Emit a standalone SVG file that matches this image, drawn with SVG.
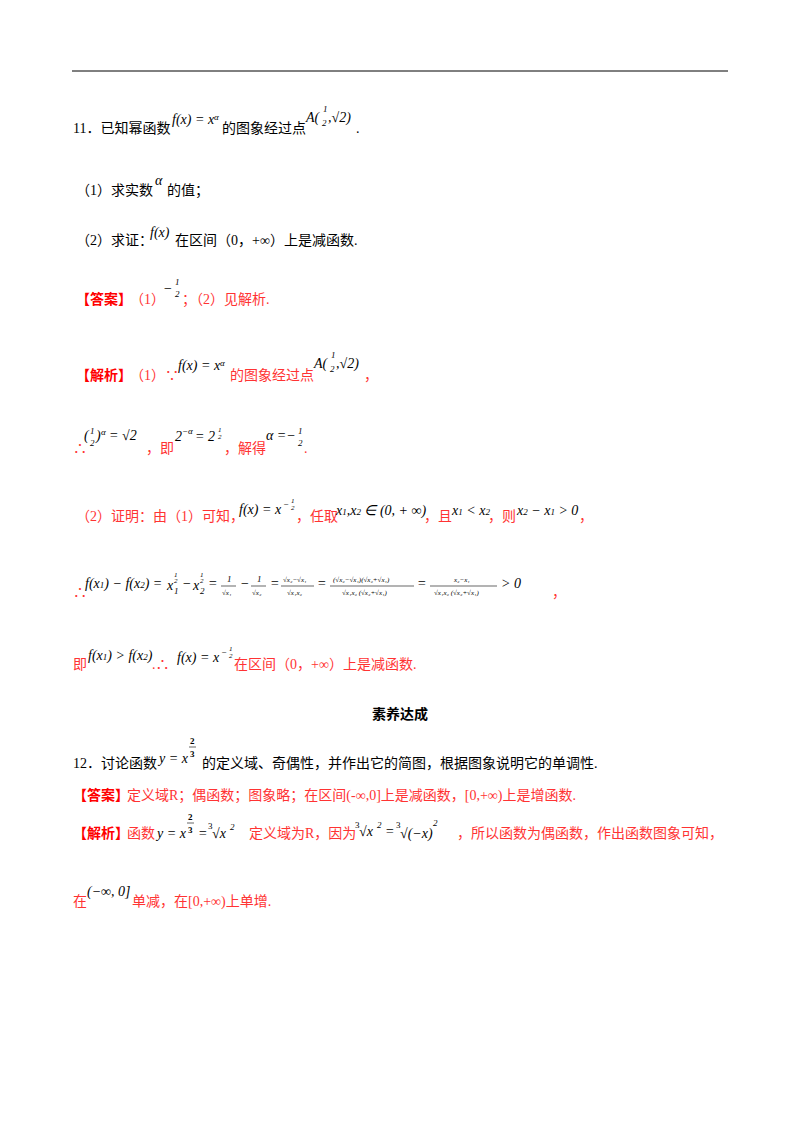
<svg xmlns="http://www.w3.org/2000/svg" width="800" height="1132" viewBox="0 0 800 1132">
<style>
.c{font-family:"Liberation Serif","Noto Sans CJK SC",serif;font-size:14px;fill:#000}
.r{font-family:"Liberation Serif","Noto Sans CJK SC",serif;font-size:14px;fill:#ff3333}
.rb{font-family:"Liberation Serif","Noto Sans CJK SC",serif;font-size:14px;fill:#ff0000;font-weight:bold}
.m{font-family:"Liberation Serif",serif;font-style:italic;font-size:14px;fill:#000}
.s{font-family:"Liberation Serif",serif;font-style:italic;font-size:9px;fill:#000}
.t{font-family:"Liberation Serif",serif;font-style:italic;font-size:7px;fill:#000}
.rm{font-family:"Liberation Serif",serif;font-size:14px;fill:#000}
.rs{font-family:"Liberation Serif",serif;font-size:9px;fill:#000}
.b{font-family:"Liberation Serif",serif;font-size:9px;font-weight:bold;fill:#000}
.h{font-family:"Liberation Sans","Noto Sans CJK SC",sans-serif;font-size:14px;font-weight:bold;fill:#000}
</style>
<rect width="800" height="1132" fill="#fff"/>
<line x1="72" y1="71" x2="728" y2="71" stroke="#000" stroke-width="1"/>

<g id="q11">
<text class="c" x="73" y="133">11．已知幂函数</text>
<text class="m" x="172" y="124">f(x) = x<tspan class="s" dy="-4">α</tspan></text>
<text class="c" x="222" y="133">的图象经过点</text>
<text class="m" x="306" y="122">A(</text>
<text class="s" x="323" y="112">1</text><text class="s" x="322" y="126">2</text>
<text class="m" x="328" y="122">,√2)</text>
<text class="c" x="356" y="133">.</text>
<text class="c" x="76" y="195">（1）求实数</text>
<text class="m" x="155" y="185">α</text>
<text class="c" x="167" y="195">的值；</text>
<text class="c" x="76" y="245">（2）求证：</text>
<text class="m" x="150" y="237">f(x)</text>
<text class="c" x="175" y="245">在区间（0，+∞）上是减函数.</text>
</g>

<g id="ans11">
<text class="rb" x="76" y="304">【答案】</text>
<text class="r" x="130" y="304">（1）</text>
<text class="rm" x="164" y="293">−</text>
<text class="s" x="175" y="285">1</text><text class="s" x="175" y="297">2</text>
<text class="r" x="182" y="304">；（2）见解析.</text>
</g>

<g id="sol11">
<text class="rb" x="76" y="380">【解析】</text>
<text class="r" x="130" y="380">（1）∵</text>
<text class="m" x="178" y="370">f(x) = x<tspan class="s" dy="-4">α</tspan></text>
<text class="r" x="230" y="380">的图象经过点</text>
<text class="m" x="314" y="368">A(</text>
<text class="s" x="331" y="358">1</text><text class="s" x="330" y="372">2</text>
<text class="m" x="336" y="368">,√2)</text>
<text class="r" x="364" y="380">，</text>

<text class="r" x="73" y="453">∴</text>
<text class="m" x="84" y="440">(</text><text class="s" x="90" y="434">1</text><text class="s" x="90" y="446">2</text><text class="m" x="96" y="440">)</text><text class="s" x="101" y="435">α</text><text class="m" x="109" y="440">= √2</text>
<text class="r" x="146" y="453">，即</text>
<text class="m" x="175" y="441">2</text><text class="s" x="182" y="434">−α</text><text class="m" x="195" y="441">= 2</text>
<text class="t" x="218" y="432">1</text><text class="t" x="218" y="439">2</text>
<text class="r" x="224" y="453">，解得</text>
<text class="m" x="266" y="440">α =−</text>
<text class="s" x="298" y="434">1</text><text class="s" x="298" y="446">2</text>
<text class="r" x="304" y="453">.</text>

<text class="r" x="76" y="521">（2）证明：由（1）可知，</text>
<text class="m" x="239" y="514">f(x) = x</text><text class="s" x="283" y="507">−</text>
<text class="t" x="291" y="503">1</text><text class="t" x="291" y="510">2</text>
<text class="r" x="296" y="521">，任取</text>
<text class="m" x="336" y="515">x<tspan class="s">1</tspan>,x<tspan class="s">2</tspan> ∈ (0, + ∞)</text>
<text class="r" x="424" y="521">，且</text>
<text class="m" x="452" y="515">x<tspan class="s">1</tspan> &lt; x<tspan class="s">2</tspan></text>
<text class="r" x="488" y="521">，则</text>
<text class="m" x="517" y="515">x<tspan class="s">2</tspan> − x<tspan class="s">1</tspan> &gt; 0</text>
<text class="r" x="579" y="521">，</text>

<text class="r" x="73" y="597">∴</text>
<text class="m" x="85" y="588">f(x<tspan class="s">1</tspan>) − f(x<tspan class="s">2</tspan>) =</text>
<text class="m" x="167" y="590">x</text><text class="s" x="174" y="594">1</text><text class="t" x="174" y="577">1</text><text class="t" x="174" y="583">2</text>
<text class="m" x="182" y="588">−</text>
<text class="m" x="193" y="590">x</text><text class="s" x="200" y="594">2</text><text class="t" x="200" y="577">1</text><text class="t" x="200" y="583">2</text>
<text class="m" x="208" y="588">=</text>
<text class="s" x="227" y="582">1</text><line x1="221" y1="586" x2="236" y2="586" stroke="#000" stroke-width="0.6"/><text class="t" x="222" y="595">√x₁</text>
<text class="m" x="240" y="588">−</text>
<text class="s" x="257" y="582">1</text><line x1="251" y1="586" x2="266" y2="586" stroke="#000" stroke-width="0.6"/><text class="t" x="252" y="595">√x₂</text>
<text class="m" x="270" y="588">=</text>
<text class="t" x="283" y="582">√x₂−√x₁</text><line x1="281" y1="586" x2="314" y2="586" stroke="#000" stroke-width="0.6"/><text class="t" x="287" y="595">√x₁x₂</text>
<text class="m" x="317" y="588">=</text>
<text class="t" x="333" y="582">(√x₂−√x₁)(√x₂+√x₁)</text><line x1="330" y1="586" x2="414" y2="586" stroke="#000" stroke-width="0.6"/><text class="t" x="342" y="595">√x₁x₂ (√x₂+√x₁)</text>
<text class="m" x="417" y="588">=</text>
<text class="t" x="454" y="582">x₂−x₁</text><line x1="430" y1="586" x2="497" y2="586" stroke="#000" stroke-width="0.6"/><text class="t" x="434" y="595">√x₁x₂ (√x₂+√x₁)</text>
<text class="m" x="501" y="588">&gt; 0</text>
<text class="r" x="552" y="597">，</text>

<text class="r" x="73" y="669">即</text>
<text class="m" x="88" y="660">f(x<tspan class="s">1</tspan>) &gt; f(x<tspan class="s">2</tspan>)</text>
<text class="r" x="152" y="669">.∴</text>
<text class="m" x="177" y="662">f(x) = x</text><text class="s" x="221" y="655">−</text>
<text class="t" x="229" y="651">1</text><text class="t" x="229" y="658">2</text>
<text class="r" x="234" y="669">在区间（0，+∞）上是减函数.</text>
</g>

<text class="h" x="400" y="719" text-anchor="middle">素养达成</text>

<g id="q12">
<text class="c" x="73" y="768">12．讨论函数</text>
<text class="m" x="159" y="763">y = x</text>
<text class="b" x="190" y="744">2</text>
<line x1="189" y1="747" x2="196" y2="747" stroke="#000" stroke-width="0.6"/>
<text class="b" x="190" y="757">3</text>
<text class="c" x="202" y="768">的定义域、奇偶性，并作出它的简图，根据图象说明它的单调性.</text>
</g>

<g id="ans12">
<text class="rb" x="73" y="800">【答案】</text>
<text class="r" x="127" y="800">定义域R；偶函数；图象略；在区间(-∞,0]上是减函数，[0,+∞)上是增函数.</text>
</g>

<g id="sol12">
<text class="rb" x="73" y="838">【解析】</text>
<text class="r" x="127" y="838">函数</text>
<text class="m" x="157" y="838">y = x</text>
<text class="b" x="188" y="820">2</text>
<line x1="187" y1="823" x2="194" y2="823" stroke="#000" stroke-width="0.6"/>
<text class="b" x="188" y="833">3</text>
<text class="m" x="198" y="838">=</text>
<text class="rs" x="208" y="829">3</text><text class="m" x="212" y="838">√x</text><text class="s" x="230" y="830">2</text>
<text class="r" x="249" y="838">定义域为R，因为</text>
<text class="rs" x="355" y="828">3</text><text class="m" x="359" y="836">√x</text><text class="s" x="377" y="828">2</text>
<text class="m" x="385" y="836">=</text>
<text class="rs" x="396" y="828">3</text><text class="m" x="400" y="838">√(−x)</text><text class="s" x="433" y="826">2</text>
<text class="r" x="457" y="838">，所以函数为偶函数，作出函数图象可知，</text>
<text class="r" x="73" y="906">在</text>
<text class="m" x="87" y="896">(−∞, 0]</text>
<text class="r" x="132" y="906">单减，在[0,+∞)上单增.</text>
</g>
</svg>
